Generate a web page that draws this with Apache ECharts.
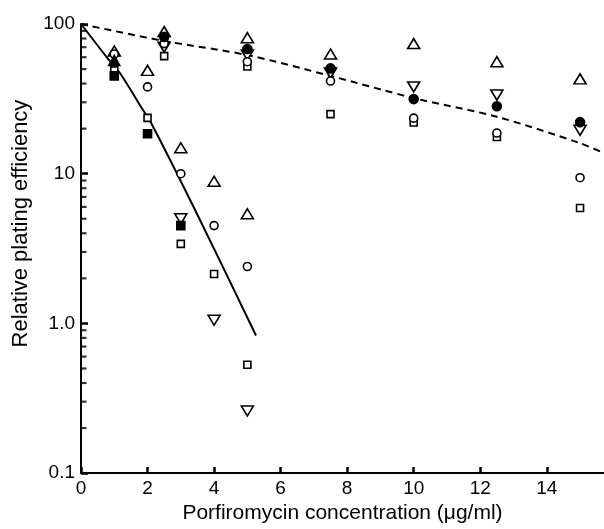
<!DOCTYPE html>
<html>
<head>
<meta charset="utf-8">
<script src="https://cdn.jsdelivr.net/npm/echarts@6/dist/echarts.min.js"></script>
<style>
    html, body { margin: 0; padding: 0; background: #fff; }
    #chart { width: 604px; height: 529px; }
</style>
</head>
<body>
<div id="chart"></div>
<script>
    // x = porfiromycin concentration (ug/ml), y = relative plating efficiency (%)
    var openTriUp   = [[1, 66], [2, 49], [2.5, 89], [3, 14.9], [4, 8.9], [5, 5.4], [5, 81], [7.5, 63], [10, 74], [12.5, 56], [15, 43]];
    var openTriDown = [[2.5, 70], [3, 5.0], [4, 1.05], [5, 0.26], [5, 62], [7.5, 47], [10, 38], [12.5, 33.5], [15, 19.5]];
    var openCircle  = [[1, 63], [2, 38], [2.5, 74], [3, 10], [4, 4.5], [5, 2.4], [5, 56], [7.5, 41.6], [10, 23.5], [12.5, 18.7], [15, 9.4]];
    var openSquare  = [[1, 49], [2, 23.6], [2.5, 61], [3, 3.4], [4, 2.14], [5, 0.53], [5, 52], [7.5, 25], [10, 22], [12.5, 17.6], [15, 5.9]];
    var fillCircle  = [[2.5, 82], [5, 68], [7.5, 50.5], [10, 31.5], [12.5, 28.2], [15, 22.1]];
    var fillSquare  = [[1, 45], [2, 18.5], [3, 4.5]];
    var fillTriUp   = [[1, 57]];

    // curves drawn by hand on the original figure
    var solidCurve  = [[0, 100], [0.8, 59], [1.2, 46], [1.8, 28], [2.1, 22], [3.4, 5.9], [5.26, 0.83]];
    var dashedCurve = [[0, 100], [2.5, 77], [5, 62], [7.5, 45], [10, 32], [12.5, 24], [15, 16], [15.72, 13.7]];

    // log-axis minor ticks (2..9 in each decade)
    var minorTickValues = [0.2, 0.3, 0.4, 0.5, 0.6, 0.7, 0.8, 0.9,
                           2, 3, 4, 5, 6, 7, 8, 9,
                           20, 30, 40, 50, 60, 70, 80, 90];

    var xMax = 15.72;
    var yMin = 0.1, yMax = 100;

    var font = 'Liberation Sans, Arial, sans-serif';

    function pts(name, data, symbol, size, filled, rotate) {
        return {
            name: name,
            type: 'scatter',
            data: data,
            symbol: symbol,
            symbolSize: size,
            symbolRotate: rotate || 0,
            z: 5,
            itemStyle: {
                color: filled ? '#000' : '#fff',
                borderColor: '#000',
                borderWidth: 1.6,
                opacity: 1
            }
        };
    }

    var chart = echarts.init(document.getElementById('chart'));
    var option = {
        animation: false,
        backgroundColor: '#fff',
        grid: {
            left: 81,
            right: 0,
            top: 24,
            bottom: 50
        },
        xAxis: {
            type: 'value',
            min: 0,
            max: xMax,
            interval: 2,
            name: 'Porfiromycin concentration (\u03bcg/ml)',
            nameLocation: 'middle',
            nameGap: 27,
            nameTextStyle: { color: '#000', fontSize: 21, fontFamily: font },
            axisLine: { show: true, lineStyle: { color: '#000', width: 2 } },
            axisTick: { show: true, inside: true, length: 6, lineStyle: { color: '#000', width: 2.5 } },
            axisLabel: { color: '#000', fontSize: 19, fontFamily: font, margin: 6, showMaxLabel: false },
            splitLine: { show: false }
        },
        yAxis: {
            type: 'log',
            logBase: 10,
            min: yMin,
            max: yMax,
            name: 'Relative plating efficiency',
            nameLocation: 'middle',
            nameGap: 46,
            nameTextStyle: { color: '#000', fontSize: 22, fontFamily: font, padding: [0, 0, 0, 50] },
            axisLine: { show: true, lineStyle: { color: '#000', width: 2 } },
            axisTick: { show: true, inside: true, length: 7, lineStyle: { color: '#000', width: 2.5 } },
            axisLabel: {
                color: '#000', fontSize: 19, fontFamily: font, margin: 6,
                formatter: function (v) {
                    if (v === 1) return '1.0';
                    return String(v);
                }
            },
            splitLine: { show: false }
        },
        series: [
            {
                // minor ticks on the log axis, drawn as short bars at x = 0
                type: 'scatter',
                silent: true,
                clip: false,
                z: 6,
                data: minorTickValues.map(function (v) { return [0, v]; }),
                symbol: 'rect',
                symbolSize: [5, 2.2],
                symbolOffset: [3, 0],
                itemStyle: { color: '#000' }
            },
            {
                type: 'line',
                data: solidCurve,
                smooth: 0.3,
                showSymbol: false,
                z: 2,
                lineStyle: { color: '#000', width: 2 }
            },
            {
                type: 'line',
                data: dashedCurve,
                smooth: 0.3,
                showSymbol: false,
                z: 2,
                lineStyle: { color: '#000', width: 2, type: [7, 5] }
            },
            pts('openTriUp', openTriUp, 'triangle', [12, 10], false),
            pts('openTriDown', openTriDown, 'triangle', [12, 10], false, 180),
            pts('openSquare', openSquare, 'rect', [7, 7], false),
            pts('openCircle', openCircle, 'circle', 8, false),
            pts('fillCircle', fillCircle, 'circle', 9, true),
            pts('fillSquare', fillSquare, 'rect', [8, 8], true),
            pts('fillTriUp', fillTriUp, 'triangle', [11, 10], true)
        ]
    };
    chart.setOption(option);
</script>
</body>
</html>
